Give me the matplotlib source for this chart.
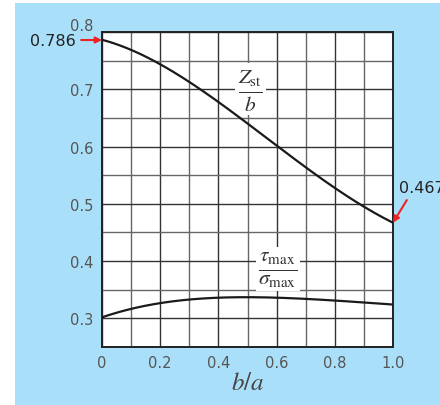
import numpy as np
import matplotlib
matplotlib.use("Agg")
import matplotlib.pyplot as plt
from matplotlib.patches import Rectangle
from matplotlib.transforms import ScaledTranslation

# curve values
ba = [0.0, 0.1, 0.2, 0.3, 0.4, 0.5, 0.6, 0.7, 0.8, 0.9, 1.0]
zst_b = [0.786, 0.770, 0.743, 0.712, 0.678, 0.641, 0.602, 0.563, 0.528, 0.495, 0.467]
tau_sigma = [0.302, 0.316, 0.327, 0.333, 0.336, 0.337, 0.336, 0.334, 0.331, 0.328, 0.324]

xticks = [0, 0.2, 0.4, 0.6, 0.8, 1.0]
xticklabels = ['0', '0.2', '0.4', '0.6', '0.8', '1.0']
yticks = [0.3, 0.4, 0.5, 0.6, 0.7, 0.8]

plt.rcParams['mathtext.fontset'] = 'stix'

fig = plt.figure(figsize=(4.4, 4.06), dpi=100)
fig.patches.append(Rectangle((15 / 440, 0), 1, 1 - 4 / 406, transform=fig.transFigure,
                             facecolor='#aadff9', edgecolor='none', zorder=-10))

ax = fig.add_axes([102 / 440, 1 - 348 / 406, 291 / 440, 315 / 406])
ax.set_facecolor('white')

# smooth the read points for drawing
xs = np.linspace(0, 1, 200)
c1 = np.polyfit(ba, zst_b, 4)
c2 = np.polyfit(ba, tau_sigma, 4)
ax.plot(xs, np.polyval(c1, xs), color='#1a1a1a', lw=1.6, zorder=5)
ax.plot(xs, np.polyval(c2, xs), color='#1a1a1a', lw=1.6, zorder=5)

ax.set_xlim(0, 1)
ax.set_ylim(0.25, 0.8)
ax.set_xticks(np.arange(0, 1.01, 0.1), minor=True)
ax.set_yticks(np.arange(0.25, 0.81, 0.05), minor=True)
ax.set_xticks(xticks)
ax.set_xticklabels(xticklabels)
ax.set_yticks(yticks)
ax.grid(True, which='major', color='#333333', lw=1.0, zorder=1)
ax.grid(True, which='minor', color='#666666', lw=1.0, zorder=1)
ax.tick_params(which='both', length=0, labelsize=10.5, labelcolor='#555555', pad=6)
for s in ax.spines.values():
    s.set_color('#222222')
    s.set_linewidth(1.4)
ax.set_axisbelow(True)

# top y label sits above the frame
top = ax.get_yticklabels()[-1]
top.set_transform(top.get_transform() + ScaledTranslation(0, 6 / 72, fig.dpi_scale_trans))

ax.set_xlabel('$b/a$', fontsize=18, color='#444444', labelpad=0)

box = dict(facecolor='white', edgecolor='none', pad=2.0)
ax.text(0.51, 0.70, r'$\frac{Z_{\mathrm{st}}}{b}$', fontsize=22, ha='center', va='center',
        color='#333333', bbox=box, zorder=4)
ax.text(0.605, 0.386, r'$\frac{\tau_{\mathrm{max}}}{\sigma_{\mathrm{max}}}$', fontsize=22,
        ha='center', va='center', color='#333333', bbox=box, zorder=4)

# value callouts
ax.annotate('0.786', xy=(0, zst_b[0]), xytext=(-19, 0), textcoords='offset points',
            fontsize=11.5, color='#222222', ha='right', va='center', annotation_clip=False,
            arrowprops=dict(arrowstyle='-|>', color='#ee2222', lw=1.5, mutation_scale=9,
                            shrinkA=2, shrinkB=0))
ax.annotate('0.467', xy=(1.0, zst_b[-1]), xytext=(4, 20), textcoords='offset points',
            fontsize=11.5, color='#222222', ha='left', va='bottom', annotation_clip=False,
            arrowprops=dict(arrowstyle='-|>', color='#ee2222', lw=1.5, mutation_scale=9,
                            shrinkA=2, shrinkB=0,
                            relpos=(0.25, 0)))

fig.savefig('out.png', dpi=100)
